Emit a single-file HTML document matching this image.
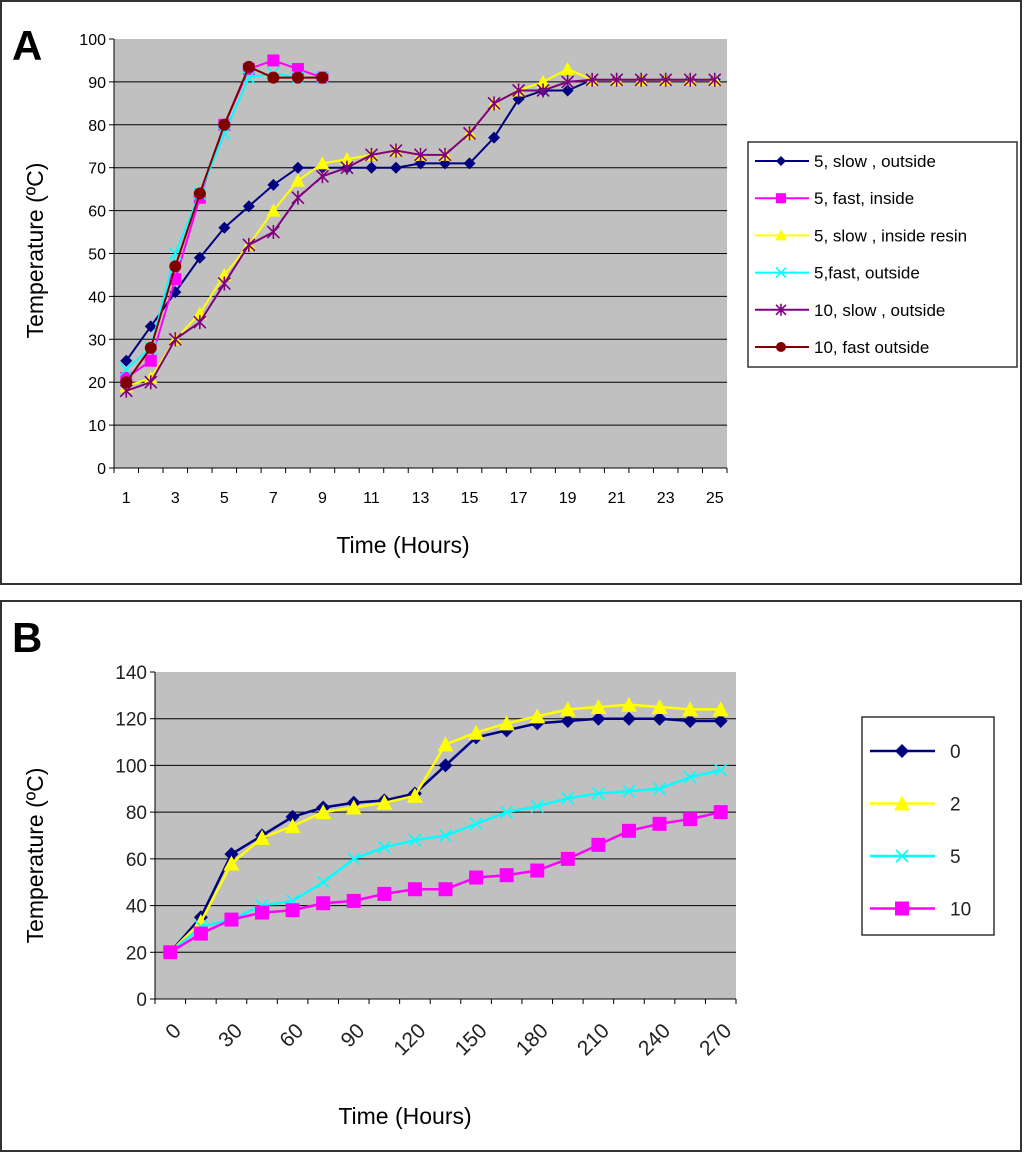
<!DOCTYPE html>
<html><head><meta charset="utf-8"><style>
html,body{margin:0;padding:0;background:#fff;}
svg{display:block;font-family:"Liberation Sans",Arial,sans-serif;}
</style></head><body>
<svg id="s" width="1024" height="1153" viewBox="0 0 1024 1153" xmlns="http://www.w3.org/2000/svg">
<rect x="1" y="1" width="1020" height="583" fill="none" stroke="#333" stroke-width="2"/>
<rect x="1" y="601" width="1020" height="550" fill="none" stroke="#333" stroke-width="2"/>
<text x="12" y="60" font-size="42" font-weight="bold">A</text>
<text x="12" y="652" font-size="42" font-weight="bold">B</text>
<g id="ga"></g>
<g id="gb"></g>
</svg>
<script>
const aCats=[1,2,3,4,5,6,7,8,9,10,11,12,13,14,15,16,17,18,19,20,21,22,23,24,25];
const aTicks=[0,10,20,30,40,50,60,70,80,90,100];
const aNames=["5, slow , outside","5, fast, inside","5, slow , inside resin","5,fast, outside","10, slow , outside","10, fast outside"];
const a1=[25,33,41,49,56,61,66,70,70,70,70,70,71,71,71,77,86,88,88,90.5,90.5,90.5,90.5,90.5,90.5];
const a2=[21,25,44,63,80,93,95,93,91];
const a3=[19,21,30,36,45,52,60,67,71,72,73,74,73,73,78,85,88,90,93,90.5,90.5,90.5,90.5,90.5,90.5];
const a4=[23,28,50,64,78,91,92,91,91];
const a5=[18,20,30,34,43,52,55,63,68,70,73,74,73,73,78,85,88,88,90,90.5,90.5,90.5,90.5,90.5,90.5];
const a6=[20,28,47,64,80,93.5,91,91,91];

const bCats=[0,15,30,45,60,75,90,105,120,135,150,165,180,195,210,225,240,255,270];
const bTicks=[0,20,40,60,80,100,120,140];
const bNames=["0","2","5","10"];
const b1=[20,35,62,70,78,82,84,85,88,100,112,115,118,119,120,120,120,119,119];
const b2=[20,33,58,69,74,80,82,84,87,109,114,118,121,124,125,126,125,124,124];
const b3=[20,31,34,40,42,50,60,65,68,70,75,80,82.5,86,88,89,90,95,98];
const b4=[20,28,34,37,38,41,42,45,47,47,52,53,55,60,66,72,75,77,80];

const NS="http://www.w3.org/2000/svg";
function mk(p,t,at){const e=document.createElementNS(NS,t);for(const k in at)e.setAttribute(k,at[k]);p.appendChild(e);return e;}
function marker(g,type,x,y,c,sz){
  let e;
  if(type==="diamond"){e=mk(g,"polygon",{points:`${x},${y-sz} ${x+sz},${y} ${x},${y+sz} ${x-sz},${y}`,fill:c});}
  else if(type==="square"){e=mk(g,"rect",{x:x-sz,y:y-sz,width:2*sz,height:2*sz,fill:c});}
  else if(type==="tri"){e=mk(g,"polygon",{points:`${x},${y-sz-1} ${x+sz+1},${y+sz} ${x-sz-1},${y+sz}`,fill:c});}
  else if(type==="x"){e=mk(g,"path",{d:`M${x-sz} ${y-sz}L${x+sz} ${y+sz}M${x-sz} ${y+sz}L${x+sz} ${y-sz}`,stroke:c,"stroke-width":1.6,fill:"none"});}
  else if(type==="star"){e=mk(g,"path",{d:`M${x-sz} ${y-sz}L${x+sz} ${y+sz}M${x-sz} ${y+sz}L${x+sz} ${y-sz}M${x} ${y-sz-1}L${x} ${y+sz+1}`,stroke:c,"stroke-width":1.6,fill:"none"});}
  else {e=mk(g,"circle",{cx:x,cy:y,r:sz,fill:c});}
  
  
}

// ---- Chart A ----
(function(){
  const g=document.getElementById('ga');
  const L=114,R=727,T=39,B=468,ymax=100;
  const w=(R-L)/aCats.length;
  const X=i=>L+(i+0.5)*w, Y=v=>B-v/ymax*(B-T);
  const bg=mk(g,"rect",{x:L,y:T,width:R-L,height:B-T,fill:"#c0c0c0"});
  
  
  aTicks.forEach(t=>{
    if(t>0&&t<ymax){const l=mk(g,"line",{x1:L,x2:R,y1:Y(t),y2:Y(t),stroke:"#000","stroke-width":1});
      
      }
    mk(g,"line",{x1:L-5,x2:L,y1:Y(t),y2:Y(t),stroke:"#000"});
    const tx=mk(g,"text",{x:L-8,y:Y(t)+6,"font-size":16,"text-anchor":"end"});tx.textContent=t;
    
    
  });
  mk(g,"line",{x1:L,x2:L,y1:T,y2:B,stroke:"#000"});
  mk(g,"line",{x1:L,x2:R,y1:B,y2:B,stroke:"#000"});
  aCats.forEach((c,i)=>{
    mk(g,"line",{x1:L+i*w,x2:L+i*w,y1:B,y2:B+5,stroke:"#000"});
    if(i%2===0){const tx=mk(g,"text",{x:X(i),y:B+35,"font-size":16,"text-anchor":"middle"});tx.textContent=c;
      
      }
  });
  mk(g,"line",{x1:R,x2:R,y1:B,y2:B+5,stroke:"#000"});
  const xt=mk(g,"text",{x:403,y:553,"font-size":23,"text-anchor":"middle"});xt.textContent="Time (Hours)";
  
  
  const yt=mk(g,"text",{x:0,y:0,"font-size":23,"text-anchor":"middle",transform:`translate(43,${(T+B)/2-3}) rotate(-90)`});yt.textContent="Temperature (ºC)";
  
  
  const series=[[a1,"#000080","diamond"],[a2,"#ff00ff","square"],[a3,"#ffff00","tri"],[a4,"#00ffff","x"],[a5,"#800080","star"],[a6,"#800000","circle"]];
  series.forEach(([d,c,m])=>{
    const p=mk(g,"polyline",{points:d.map((v,i)=>X(i)+","+Y(v)).join(" "),fill:"none",stroke:c,"stroke-width":2});
    
    
    d.forEach((v,i)=>marker(g,m,X(i),Y(v),c,6));
  });
  const lg=mk(g,"g",{});
  
  
  mk(lg,"rect",{x:748,y:142,width:269,height:225,fill:"#fff",stroke:"#333","stroke-width":1.5});
  series.forEach(([d,c,m],k)=>{
    const y=161+k*37.2;
    mk(lg,"line",{x1:755,x2:809,y1:y,y2:y,stroke:c,"stroke-width":2});
    marker(lg,m,781,y,c,5);
    const t=mk(lg,"text",{x:814,y:y+6,"font-size":17});t.textContent=aNames[k];
    
    
  });
})();

// ---- Chart B ----
(function(){
  const g=document.getElementById('gb');
  const L=155,R=736,T=672,B=999,ymax=140;
  const w=(R-L)/bCats.length;
  const X=i=>L+(i+0.5)*w, Y=v=>B-v/ymax*(B-T);
  const bg=mk(g,"rect",{x:L,y:T,width:R-L,height:B-T,fill:"#c0c0c0"});
  
  
  bTicks.forEach(t=>{
    if(t>0&&t<ymax){const l=mk(g,"line",{x1:L,x2:R,y1:Y(t),y2:Y(t),stroke:"#000","stroke-width":1});
      
      }
    mk(g,"line",{x1:L-5,x2:L,y1:Y(t),y2:Y(t),stroke:"#000"});
    const tx=mk(g,"text",{x:L-8,y:Y(t)+7,"font-size":19,"text-anchor":"end",fill:"#222"});tx.textContent=t;
    
    
  });
  mk(g,"line",{x1:L,x2:L,y1:T,y2:B,stroke:"#000"});
  mk(g,"line",{x1:L,x2:R,y1:B,y2:B,stroke:"#000"});
  bCats.forEach((c,i)=>{
    mk(g,"line",{x1:L+i*w,x2:L+i*w,y1:B,y2:B+5,stroke:"#000"});
    if(i%2===0){const tx=mk(g,"text",{x:0,y:0,"font-size":21,"text-anchor":"end",fill:"#222",transform:`translate(${X(i)+12},${B+33}) rotate(-45)`});tx.textContent=c;
      
      }
  });
  mk(g,"line",{x1:R,x2:R,y1:B,y2:B+5,stroke:"#000"});
  const xt=mk(g,"text",{x:405,y:1124,"font-size":23,"text-anchor":"middle"});xt.textContent="Time (Hours)";
  
  
  const yt=mk(g,"text",{x:0,y:0,"font-size":23,"text-anchor":"middle",transform:`translate(43,${(T+B)/2+20}) rotate(-90)`});yt.textContent="Temperature (ºC)";
  
  
  const series=[[b1,"#000080","diamond",7],[b2,"#ffff00","tri",7],[b3,"#00ffff","x",6],[b4,"#ff00ff","square",7]];
  series.forEach(([d,c,m,sz])=>{
    const p=mk(g,"polyline",{points:d.map((v,i)=>X(i)+","+Y(v)).join(" "),fill:"none",stroke:c,"stroke-width":2.5});
    
    
    d.forEach((v,i)=>marker(g,m,X(i),Y(v),c,sz));
  });
  const lg=mk(g,"g",{});
  
  
  mk(lg,"rect",{x:862,y:717,width:132,height:218,fill:"#fff",stroke:"#333","stroke-width":1.5});
  series.forEach(([d,c,m,sz],k)=>{
    const y=751+k*52.5;
    mk(lg,"line",{x1:870,x2:935,y1:y,y2:y,stroke:c,"stroke-width":2.5});
    marker(lg,m,902,y,c,sz);
    const t=mk(lg,"text",{x:950,y:y+7,"font-size":19,fill:"#222"});t.textContent=bNames[k];
    
    
  });
})();
</script>
</body></html>
